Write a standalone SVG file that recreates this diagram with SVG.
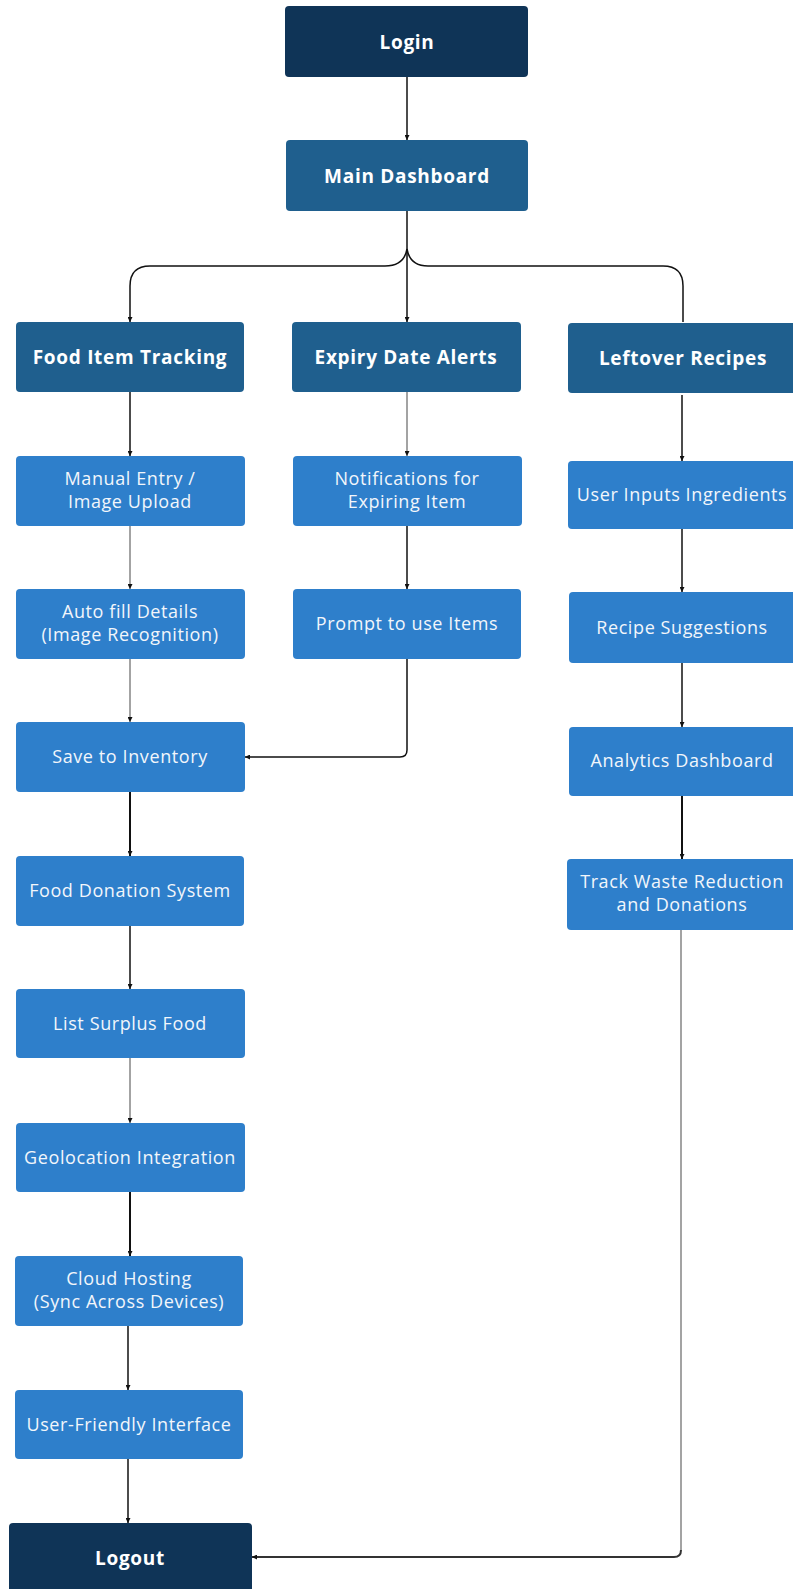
<svg xmlns="http://www.w3.org/2000/svg" width="793" height="1589" viewBox="0 0 793 1589">
<style>
.dark{fill:#0f3457}
.mid{fill:#1f5f8e}
.light{fill:#2e7fcb}
.tb{font-family:"Open Sans","Liberation Sans",sans-serif;font-weight:700;font-size:19px;letter-spacing:0.7px;fill:#ffffff;text-anchor:middle}
.tr{font-family:"Open Sans","Liberation Sans",sans-serif;font-weight:400;font-size:18px;letter-spacing:0.6px;fill:#f2f6fb;text-anchor:middle}
.c{fill:none;stroke:#111;stroke-width:1.5}
.cg{fill:none;stroke:#666;stroke-width:1.2}
.ck{fill:none;stroke:#111;stroke-width:2}
.ch{fill:none;stroke:#333;stroke-width:2}
</style>
<defs>
<marker id="ah" viewBox="0 0 10 10" refX="10" refY="5" markerWidth="5" markerHeight="5" markerUnits="userSpaceOnUse" orient="auto">
<path d="M0,0 L10,5 L0,10 z" fill="#111"/>
</marker>
</defs>
<rect width="793" height="1589" fill="#ffffff"/>
<g id="connectors">
<path class="c" d="M407,77 V140" marker-end="url(#ah)"/>
<path class="c" d="M407,211 V322" marker-end="url(#ah)"/>
<path class="c" d="M407,249 Q404,266 385,266 H150 Q130,266 130,286 V322" marker-end="url(#ah)"/>
<path class="c" d="M407,249 Q410,266 428,266 H663 Q683,266 683,286 V322"/>
<path class="c" d="M130,392 V456" marker-end="url(#ah)"/>
<path class="cg" d="M130,526 V589" marker-end="url(#ah)"/>
<path class="cg" d="M130,659 V722" marker-end="url(#ah)"/>
<path class="ck" d="M130,792 V856" marker-end="url(#ah)"/>
<path class="c" d="M130,926 V989" marker-end="url(#ah)"/>
<path class="cg" d="M130,1058 V1123" marker-end="url(#ah)"/>
<path class="ck" d="M130,1192 V1256" marker-end="url(#ah)"/>
<path class="c" d="M128,1326 V1390" marker-end="url(#ah)"/>
<path class="c" d="M128,1459 V1523" marker-end="url(#ah)"/>
<path class="cg" d="M407,392 V456" marker-end="url(#ah)"/>
<path class="c" d="M407,526 V589" marker-end="url(#ah)"/>
<path class="c" d="M407,659 V750 Q407,757 400,757 H245" marker-end="url(#ah)"/>
<path class="c" d="M682,395 V461" marker-end="url(#ah)"/>
<path class="c" d="M682,529 V592" marker-end="url(#ah)"/>
<path class="c" d="M682,663 V727" marker-end="url(#ah)"/>
<path class="ck" d="M682,796 V859" marker-end="url(#ah)"/>
<path class="cg" d="M681,930 V1550"/>
<path class="ch" d="M681,1550 Q681,1557 674,1557 H252" marker-end="url(#ah)"/>
</g>
<g id="login"><rect class="dark" x="285" y="6" width="243" height="71" rx="4"/><text class="tb" x="407" y="49">Login</text></g>
<g id="main-dashboard"><rect class="mid" x="286" y="140" width="242" height="71" rx="4"/><text class="tb" x="407" y="183">Main Dashboard</text></g>
<g id="food-item-tracking"><rect class="mid" x="16" y="322" width="228" height="70" rx="4"/><text class="tb" x="130" y="364">Food Item Tracking</text></g>
<g id="expiry-date-alerts"><rect class="mid" x="292" y="322" width="229" height="70" rx="4"/><text class="tb" x="406" y="364">Expiry Date Alerts</text></g>
<g id="leftover-recipes"><rect class="mid" x="568" y="323" width="230" height="70" rx="4"/><text class="tb" x="683" y="365">Leftover Recipes</text></g>
<g id="manual-entry"><rect class="light" x="16" y="456" width="229" height="70" rx="4"/><text class="tr" x="130" y="485">Manual Entry /</text><text class="tr" x="130" y="508">Image Upload</text></g>
<g id="notifications"><rect class="light" x="293" y="456" width="229" height="70" rx="4"/><text class="tr" x="407" y="485">Notifications for</text><text class="tr" x="407" y="508">Expiring Item</text></g>
<g id="user-inputs"><rect class="light" x="568" y="461" width="230" height="68" rx="4"/><text class="tr" x="682" y="501">User Inputs Ingredients</text></g>
<g id="auto-fill"><rect class="light" x="16" y="589" width="229" height="70" rx="4"/><text class="tr" x="130" y="618">Auto fill Details</text><text class="tr" x="130" y="641">(Image Recognition)</text></g>
<g id="prompt"><rect class="light" x="293" y="589" width="228" height="70" rx="4"/><text class="tr" x="407" y="630">Prompt to use Items</text></g>
<g id="recipe-suggestions"><rect class="light" x="569" y="592" width="230" height="71" rx="4"/><text class="tr" x="682" y="634">Recipe Suggestions</text></g>
<g id="save-inventory"><rect class="light" x="16" y="722" width="229" height="70" rx="4"/><text class="tr" x="130" y="763">Save to Inventory</text></g>
<g id="analytics"><rect class="light" x="569" y="727" width="230" height="69" rx="4"/><text class="tr" x="682" y="767">Analytics Dashboard</text></g>
<g id="food-donation"><rect class="light" x="16" y="856" width="228" height="70" rx="4"/><text class="tr" x="130" y="897">Food Donation System</text></g>
<g id="track-waste"><rect class="light" x="567" y="859" width="231" height="71" rx="4"/><text class="tr" x="682" y="888">Track Waste Reduction</text><text class="tr" x="682" y="911">and Donations</text></g>
<g id="list-surplus"><rect class="light" x="16" y="989" width="229" height="69" rx="4"/><text class="tr" x="130" y="1030">List Surplus Food</text></g>
<g id="geolocation"><rect class="light" x="16" y="1123" width="229" height="69" rx="4"/><text class="tr" x="130" y="1164">Geolocation Integration</text></g>
<g id="cloud-hosting"><rect class="light" x="15" y="1256" width="228" height="70" rx="4"/><text class="tr" x="129" y="1285">Cloud Hosting</text><text class="tr" x="129" y="1308">(Sync Across Devices)</text></g>
<g id="user-friendly"><rect class="light" x="15" y="1390" width="228" height="69" rx="4"/><text class="tr" x="129" y="1431">User-Friendly Interface</text></g>
<g id="logout"><rect class="dark" x="9" y="1523" width="243" height="80" rx="4"/><text class="tb" x="130" y="1565">Logout</text></g>
</svg>
